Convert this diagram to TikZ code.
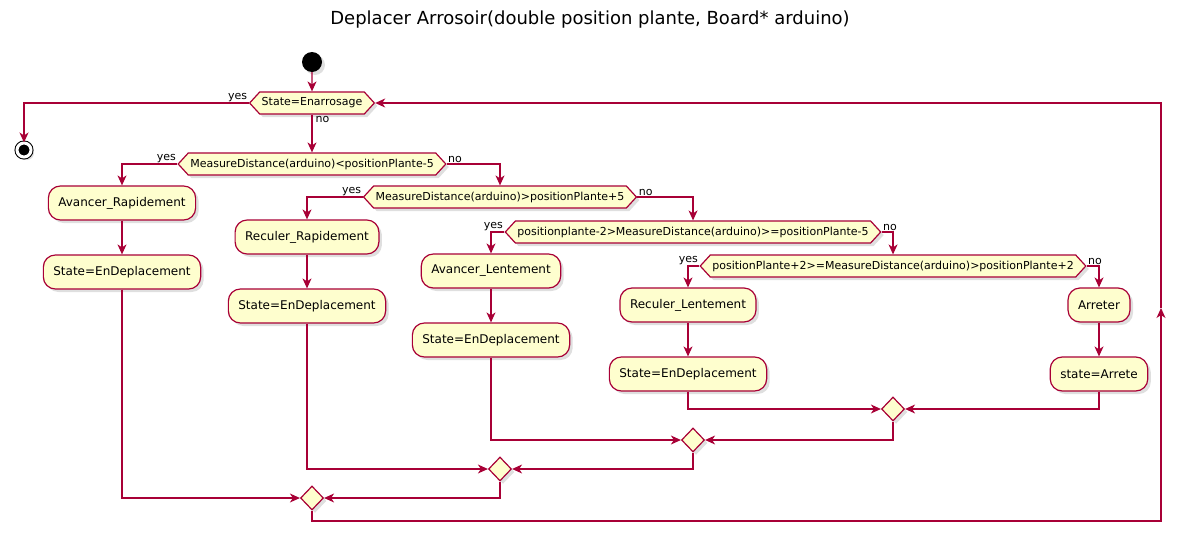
\documentclass[tikz,border=0pt]{standalone}
\usepackage{fontspec}
\setmainfont{DejaVu Sans}
\usetikzlibrary{arrows.meta,positioning,shapes.geometric,shapes.symbols,shadows}
\definecolor{UmlRed}{HTML}{A80036}
\definecolor{UmlCream}{HTML}{FEFECE}
\tikzset{
  shade/.style={drop shadow={shadow xshift=3pt,shadow yshift=-3pt,opacity=0.25}},
  act/.style={rounded corners=12pt,draw=UmlRed,fill=UmlCream,line width=1.2pt,
    minimum height=34pt,inner xsep=10pt,font=\fontsize{12}{14}\selectfont,shade},
  cond/.style={signal,signal to=east and west,signal pointer angle=95,draw=UmlRed,
    fill=UmlCream,line width=1.2pt,minimum height=22pt,inner xsep=2pt,inner ysep=0pt,
    font=\fontsize{11}{13}\selectfont,shade},
  merge/.style={diamond,draw=UmlRed,fill=UmlCream,line width=1.2pt,
    minimum width=23pt,minimum height=24pt,inner sep=0pt,shade},
  link/.style={UmlRed,line width=1.2pt},
  flow/.style={link,-{Stealth[length=10pt,width=9pt,inset=3pt]}},
  lbl/.style={text=black,font=\fontsize{11}{13}\selectfont,inner sep=1pt},
}

\begin{document}
\begin{tikzpicture}[x=1pt,y=-1pt]
  \useasboundingbox (0,0) rectangle (1186,544);
  \node[font=\fontsize{18}{21}\selectfont] (title) at (590,20)
    {Deplacer Arrosoir(double position plante, Board* arduino)};
  % start / stop
  \node[circle,fill=black,minimum size=20pt,inner sep=0pt,shade] (start) at (312,62) {};
  \node[circle,fill=black,draw=black,line width=1pt,double=white,double distance=3pt,
    minimum size=14pt,inner sep=0pt,shade] (stop) at (24,150) {};
  % conditions
  \node[cond] (c1) at (312,103) {State=Enarrosage};
  \node[cond] (c2) at (312,164) {MeasureDistance(arduino)<positionPlante-5};
  \node[cond] (c3) at (500,197) {MeasureDistance(arduino)>positionPlante+5};
  \node[cond] (c4) at (693,232) {positionplante-2>MeasureDistance(arduino)>=positionPlante-5};
  \node[cond] (c5) at (893,266) {positionPlante+2>=MeasureDistance(arduino)>positionPlante+2};
  % actions
  \node[act] (a1) at (122,203) {Avancer\_Rapidement};
  \node[act] (s1) at (122,272) {State=EnDeplacement};
  \node[act] (a2) at (307,237) {Reculer\_Rapidement};
  \node[act] (s2) at (307,306) {State=EnDeplacement};
  \node[act] (a3) at (491,271) {Avancer\_Lentement};
  \node[act] (s3) at (491,340) {State=EnDeplacement};
  \node[act] (a4) at (688,305) {Reculer\_Lentement};
  \node[act] (s4) at (688,374) {State=EnDeplacement};
  \node[act] (a5) at (1099,305) {Arreter};
  \node[act] (s5) at (1099,374) {state=Arrete};
  % merges
  \node[merge] (m1) at (893,409) {};
  \node[merge] (m2) at (693,440) {};
  \node[merge] (m3) at (500,469) {};
  \node[merge] (m4) at (312,498) {};
  \coordinate (lb) at (1161,521);
  \coordinate (lm) at (1161,308);
  \coordinate (lt) at (1161,103);

  \draw[flow] (start) -- (c1);
  \draw[flow] (c1.west) node[lbl,anchor=south east] {yes} -| (stop);
  \draw[flow] (c1.south) node[lbl,anchor=north west,xshift=2pt] {no} -- (c2.north);
  \draw[flow] (c2.west) node[lbl,anchor=south east] {yes} -| (a1);
  \draw[flow] (c2.east) node[lbl,anchor=south west] {no} -| (c3);
  \draw[flow] (c3.west) node[lbl,anchor=south east] {yes} -| (a2);
  \draw[flow] (c3.east) node[lbl,anchor=south west] {no} -| (c4);
  \draw[flow] (c4.west) node[lbl,anchor=south east] {yes} -| (a3);
  \draw[flow] (c4.east) node[lbl,anchor=south west] {no} -| (c5);
  \draw[flow] (c5.west) node[lbl,anchor=south east] {yes} -| (a4);
  \draw[flow] (c5.east) node[lbl,anchor=south west] {no} -| (a5);
  \draw[flow] (a1) -- (s1);
  \draw[flow] (a2) -- (s2);
  \draw[flow] (a3) -- (s3);
  \draw[flow] (a4) -- (s4);
  \draw[flow] (a5) -- (s5);
  \draw[flow] (s4.south) |- (m1.west);
  \draw[flow] (s5.south) |- (m1.east);
  \draw[flow] (s3.south) |- (m2.west);
  \draw[flow] (m1.south) |- (m2.east);
  \draw[flow] (s2.south) |- (m3.west);
  \draw[flow] (m2.south) |- (m3.east);
  \draw[flow] (s1.south) |- (m4.west);
  \draw[flow] (m3.south) |- (m4.east);
  % loop back
  \draw[flow] (m4.south) |- (lb) -- (lm);
  \draw[flow] (lm) -- (lt) -- (c1.east);
\end{tikzpicture}
\end{document}
